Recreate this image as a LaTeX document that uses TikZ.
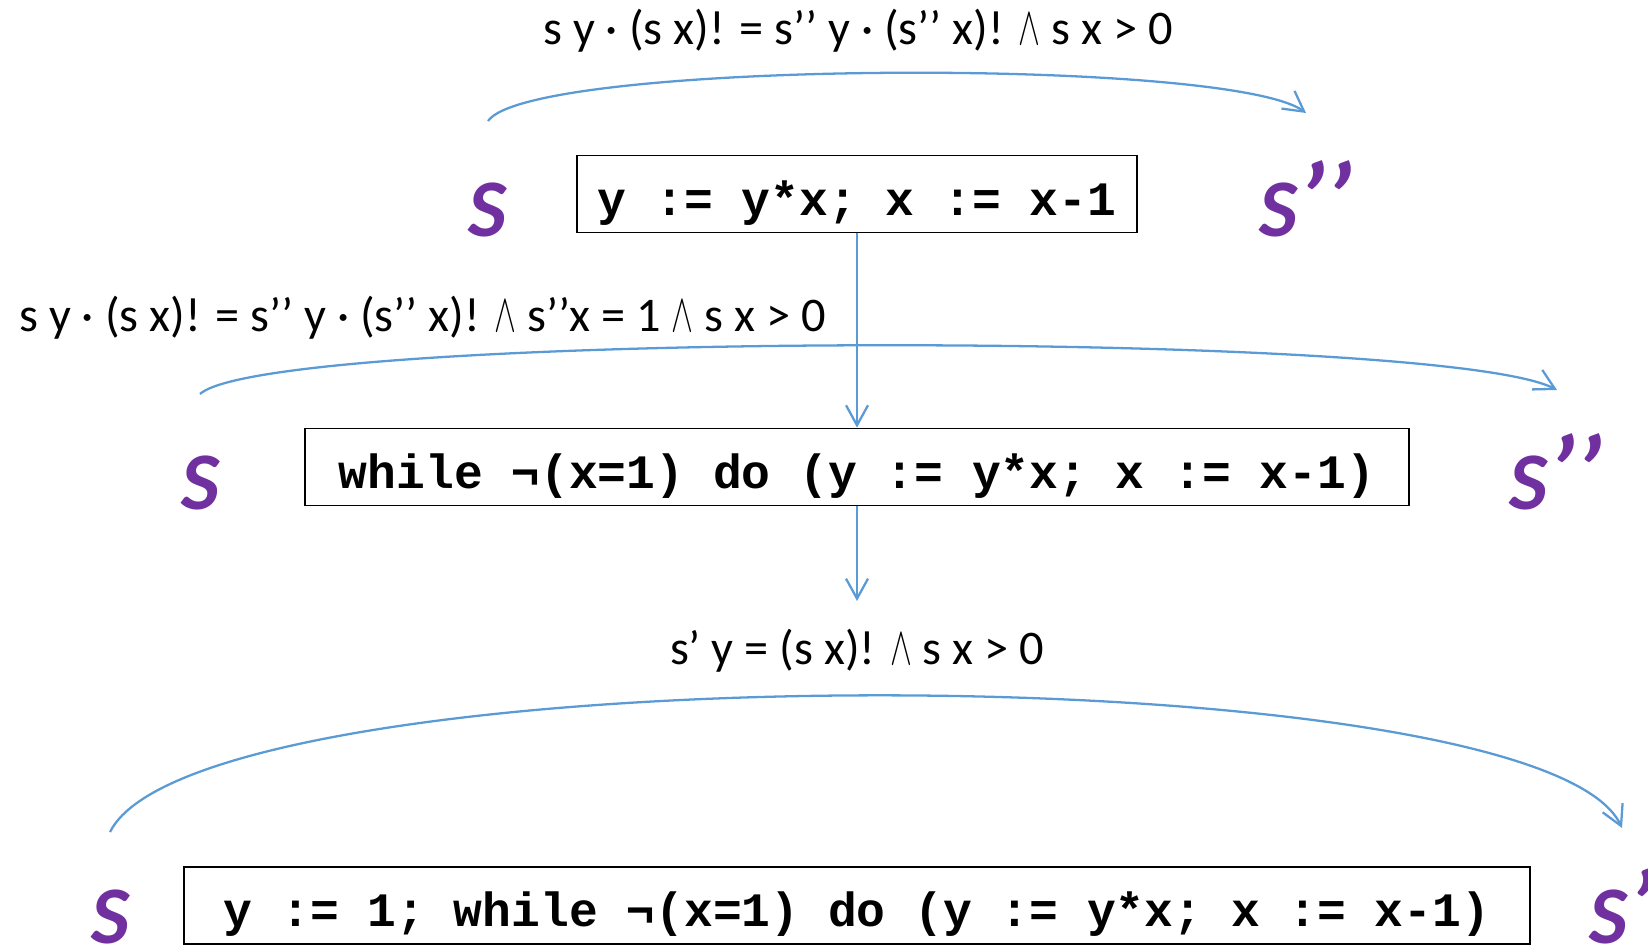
\documentclass[tikz,border=0pt]{standalone}
\usepackage{fontspec}
\setmainfont{Carlito}
\newfontfamily\codefont{Liberation Mono}
\usetikzlibrary{arrows.meta}
\definecolor{accent}{RGB}{112,48,160}
\definecolor{wire}{RGB}{91,155,213}
\newcommand{\wedgeop}{\scalebox{0.75}[1.25]{$\wedge$}}
\newcommand{\primes}[1]{{\fontsize{60}{60}\selectfont #1}}
\tikzset{
  prog/.style={draw=black, line width=1pt, inner sep=0pt, minimum height=1.54cm,
              text height=24pt, text depth=0pt,
              font=\codefont\bfseries\fontsize{27.3}{30}\selectfont},
  state/.style={anchor=base west, inner sep=0pt, text=accent,
              font=\fontsize{46.6}{50}\selectfont\bfseries\itshape},
  cond/.style={inner sep=0pt, anchor=base, font=\fontsize{27.5}{32}\selectfont},
  flow/.style={-{Straight Barb[length=4mm,width=4.4mm]}, wire, line width=1.3pt},
}

\begin{document}
\begin{tikzpicture}[x=0.02cm, y=0.02cm]
  \useasboundingbox (0,0) rectangle (1648,947);
  \node[prog, minimum width=11.2cm] (body) at (857,753) {y := y*x; x := x-1};
  \node[prog, minimum width=22.08cm] (loop) at (857,480) {while ¬(x=1) do (y := y*x; x := x-1)};
  \node[prog, minimum width=26.92cm] (fact) at (857,41.5) {y := 1; while ¬(x=1) do (y := y*x; x := x-1)};
  \node[state] (s1) at (468,710) {S};
  \node[state] (t1) at (1259,710) {S\primes{’’}};
  \node[state] (s2) at (181,438) {S};
  \node[state] (t2) at (1509,438) {S\primes{’’}};
  \node[state] (s3) at (91,4) {S};
  \node[state] (t3) at (1589,4) {S\primes{’}};
  \node[cond] (c1) at (858,902) {s y · (s x)! = s’’ y · (s’’ x)! \wedgeop{} s x > 0};
  \node[cond, anchor=base west] (c2) at (19,615) {s y · (s x)! = s’’ y · (s’’ x)! \wedgeop{} s’’x = 1 \wedgeop{} s x > 0};
  \node[cond] (c3) at (857,283) {s’ y = (s x)! \wedgeop{} s x > 0};
  \coordinate (a1) at (488,826);
  \coordinate (b1) at (1306,834);
  \coordinate (a2) at (200,553);
  \coordinate (b2) at (1557,557);
  \coordinate (a3) at (110,115);
  \coordinate (b3) at (1622,119);
  \coordinate (done) at (857,346);
  \draw[flow] (a1) .. controls (530,887) and (1230,890) .. (b1);
  \draw[flow] (a2) .. controls (270,616) and (1440,618) .. (b2);
  \draw[flow] (a3) .. controls (200,296) and (1540,296) .. (b3);
  \draw[flow] (body.south) -- (loop.north);
  \draw[flow] (loop.south) -- (done);
\end{tikzpicture}
\end{document}
